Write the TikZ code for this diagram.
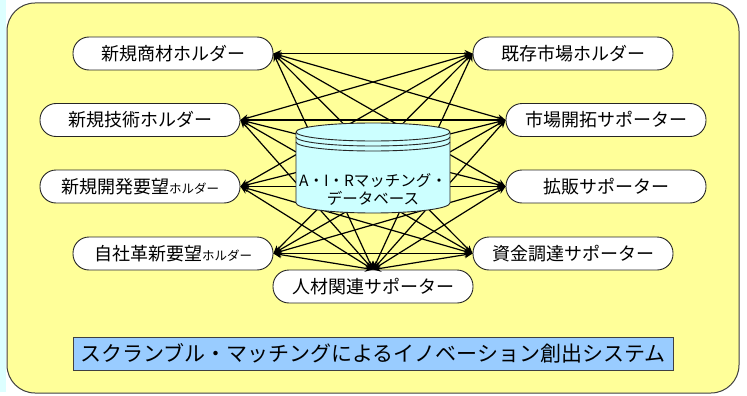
\documentclass[tikz,border=0pt]{standalone}
\usepackage{fontspec}
\setmainfont{Noto Sans CJK JP}
\usetikzlibrary{arrows.meta}
\definecolor{bgyellow}{HTML}{FFFF99}
\definecolor{cylcyan}{HTML}{CCFFFF}
\definecolor{titleblue}{HTML}{99CCFF}
\definecolor{edgecyan}{HTML}{DDFFFF}
\begin{document}
\begin{tikzpicture}[x=1pt,y=-1pt,
  box/.style={draw=black!85, line width=0.9pt, fill=white, rounded corners=16pt,
    minimum width=200pt, minimum height=33pt, inner sep=0pt,
    font=\fontsize{18}{18}\selectfont},
  link/.style={line width=1.2pt, {Stealth[length=8pt,width=7pt]}-{Stealth[length=8pt,width=7pt]}},
  cylstyle/.style={draw=black!85, line width=0.9pt}]
\useasboundingbox (0,0) rectangle (747,396);
\fill[white] (0,0) rectangle (747,396);
\fill[edgecyan] (0,0) rectangle (6,392);
\draw[fill=bgyellow, draw=black!75, line width=1pt, rounded corners=28pt] (7,3) rectangle (739,393);

% left nodes
\node[box] (L1) at (173,53.5) {新規商材ホルダー};
\node[box] (L2) at (140,120) {新規技術ホルダー};
\node[box] (L3) at (140,186.5) {新規開発要望{\fontsize{12.5}{12.5}\selectfont ホルダー}};
\node[box] (L4) at (173,253.5) {自社革新要望{\fontsize{12.5}{12.5}\selectfont ホルダー}};
% right nodes
\node[box] (R1) at (573,53.5) {既存市場ホルダー};
\node[box] (R2) at (606,120) {市場開拓サポーター};
\node[box] (R3) at (606,186.5) {拡販サポーター};
\node[box] (R4) at (573,253.5) {資金調達サポーター};
% bottom node
\node[box] (B) at (373,286.5) {人材関連サポーター};

% connectors
\foreach \a in {L1,L2,L3,L4}{
  \foreach \b in {R1,R2,R3,R4}{
    \draw[link] (\a.east) -- (\b.west);
  }
  \draw[link] (\a.east) -- (B.north);
}
\foreach \b in {R1,R2,R3,R4}{
  \draw[link] (B.north) -- (\b.west);
}

% database cylinder
\path[cylstyle, fill=cylcyan] (296,132) -- (296,203)
  arc[start angle=180, end angle=360, x radius=77pt, y radius=10pt]
  -- (450,132)
  arc[start angle=0, end angle=180, x radius=77pt, y radius=9pt] -- cycle;
\draw[cylstyle] (296,132) arc[start angle=180, end angle=360, x radius=77pt, y radius=9pt];
\draw[cylstyle] (296,137) arc[start angle=180, end angle=360, x radius=77pt, y radius=9pt];
\draw[cylstyle] (296,142) arc[start angle=180, end angle=360, x radius=77pt, y radius=9pt];
\node[align=center, inner sep=0pt, font=\fontsize{15.5}{18}\selectfont] (db) at (373,189)
  {A・I・Rマッチング・\\データベース};

% title
\node[draw=black!75, line width=0.9pt, fill=titleblue, minimum width=600pt, minimum height=33pt,
  inner sep=0pt, font=\fontsize{21}{21}\selectfont] (title) at (373,353.5)
  {スクランブル・マッチングによるイノベーション創出システム};
\end{tikzpicture}
\end{document}
